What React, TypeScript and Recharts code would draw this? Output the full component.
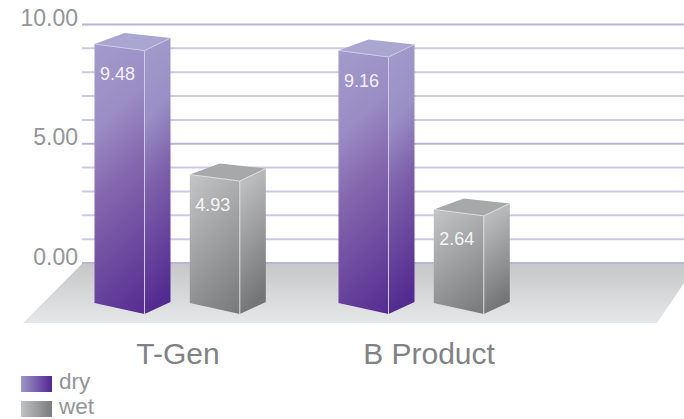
import React from "react";
import { BarChart, Bar, XAxis, YAxis, CartesianGrid, Legend, LabelList, usePlotArea } from "recharts";

const categories = ["T-Gen", "B Product"];
// Bar heights as drawn in the picture, measured against the axis
const dryHeights = [9.43, 9.16];
const wetHeights = [3.96, 2.5];
// Values printed on the bars
const dryPrinted = [9.48, 9.16];
const wetPrinted = [4.93, 2.64];
const yTicks = [0, 5, 10];
const minorLines = [1, 2, 3, 4, 6, 7, 8, 9];
const majorLines = [0, 5, 10];
const categoryNudge = [10.5, 17.5];

const data = categories.map((name, i) => ({
  name,
  dry: dryHeights[i],
  wet: wetHeights[i],
  dryPrinted: dryPrinted[i],
  wetPrinted: wetPrinted[i],
}));

const FONT = "'Liberation Sans', Arial, sans-serif";
const TEXT = "#939598";

const TOP_BACK = -5;
const TOP_LEFT = 6;
const TOP_FRONT = 12.5;
const BOT_LEFT = 40;
const BOT_FRONT = 51;
const BOT_SIDE = 39;
const SIDE_W = 26;
const BACK_X = 30;

function Floor() {
  const p = usePlotArea();
  if (!p) return null;
  const top = p.y + p.height + 0.75;
  const bottom = p.y + p.height + 60;
  const left = p.x;
  const right = p.x + p.width;
  return (
    <g>
      <defs>
        <linearGradient id="floor" x1="0" y1="0" x2="0" y2="1">
          <stop offset="0" stopColor="#c6c7c9" />
          <stop offset="1" stopColor="#e6e7e8" />
        </linearGradient>
        <linearGradient id="dryFront" x1="0" y1="0" x2="0.205" y2="1.14">
          <stop offset="0" stopColor="#a39bcc" />
          <stop offset="0.28" stopColor="#9a8cc4" />
          <stop offset="0.5" stopColor="#8567ae" />
          <stop offset="1" stopColor="#552c90" />
        </linearGradient>
        <linearGradient id="drySide" x1="0" y1="0" x2="0.1" y2="1">
          <stop offset="0" stopColor="#a29ccb" />
          <stop offset="0.3" stopColor="#9a8fc6" />
          <stop offset="0.55" stopColor="#7d60aa" />
          <stop offset="1" stopColor="#542b90" />
        </linearGradient>
        <linearGradient id="wetFront" x1="0" y1="0" x2="0.46" y2="1.2">
          <stop offset="0" stopColor="#c4c5c7" />
          <stop offset="1" stopColor="#77787a" />
        </linearGradient>
        <linearGradient id="wetSide" x1="0" y1="0" x2="0.2" y2="1">
          <stop offset="0" stopColor="#c7c8ca" />
          <stop offset="1" stopColor="#747577" />
        </linearGradient>
      </defs>
      <polygon
        points={`${left},${top} ${right + 13},${top} ${right - 27},${bottom} ${left - 59},${bottom}`}
        fill="url(#floor)"
      />
    </g>
  );
}

function Box3D(props: any) {
  const { x, y, width, height, kind } = props;
  const base = y + height;
  const r = x + width;
  const s = r + SIDE_W;
  const edge = kind === "dry" ? "#cfc9e4" : "#dcddde";
  const topFill = kind === "dry" ? "#aaa6d2" : "#a7a8aa";
  const front = `${x},${y + TOP_LEFT} ${r},${y + TOP_FRONT} ${r},${base + BOT_FRONT} ${x},${base + BOT_LEFT}`;
  const side = `${r},${y + TOP_FRONT} ${s},${y} ${s},${base + BOT_SIDE} ${r},${base + BOT_FRONT}`;
  const top = `${x},${y + TOP_LEFT} ${x + BACK_X},${y + TOP_BACK} ${s},${y} ${r},${y + TOP_FRONT}`;
  return (
    <g>
      <polygon points={front} fill={`url(#${kind}Front)`} />
      <polygon points={side} fill={`url(#${kind}Side)`} />
      <polygon points={top} fill={topFill} />
      <polyline points={`${x},${y + TOP_LEFT} ${r},${y + TOP_FRONT} ${s},${y}`} fill="none" stroke={edge} strokeWidth={1} />
      <line x1={r} y1={y + TOP_FRONT} x2={r} y2={base + BOT_FRONT} stroke={edge} strokeWidth={1} />
    </g>
  );
}

function CategoryTick(props: any) {
  const { x, y, payload, index } = props;
  return (
    <text x={x + categoryNudge[index]} y={y + 93} textAnchor="middle" fill="#808285" fontFamily={FONT} fontSize={30}>
      {payload.value}
    </text>
  );
}

function ValueLabel(props: any) {
  const { x, y, width, value } = props;
  return (
    <text x={x + width / 2 - 2} y={y + 42} textAnchor="middle" fill="#ffffff" fillOpacity={0.9} fontFamily={FONT} fontSize={18}>
      {Number(value).toFixed(2)}
    </text>
  );
}

const swatches: Record<string, string> = {
  dry: "linear-gradient(90deg,#9d96ca,#53288f)",
  wet: "linear-gradient(90deg,#c1c2c4,#797a7c)",
};

function LegendBox(props: any) {
  return (
    <div style={{ fontFamily: FONT, fontSize: 22.5, color: TEXT }}>
      {(props.payload || []).map((e: any) => (
        <div key={e.value} style={{ height: 25, display: "flex", alignItems: "center" }}>
          <span style={{ display: "inline-block", width: 31, height: 16, marginRight: 7, background: swatches[e.value] }} />
          <span style={{ lineHeight: "16px", position: "relative", top: -2 }}>{e.value}</span>
        </div>
      ))}
    </div>
  );
}

export default function App() {
  return (
    <div style={{ position: "absolute", left: 0, top: 0, width: 684, height: 419, background: "#fff", overflow: "hidden" }}>
      <BarChart
        width={684}
        height={419}
        data={data}
        margin={{ top: 24.5, right: 0, bottom: 0, left: 0 }}
        barSize={50}
        barGap={45.3}
      >
        <CartesianGrid horizontalValues={minorLines} vertical={false} stroke="#cdc9e5" strokeWidth={2} />
        <CartesianGrid horizontalValues={majorLines} vertical={false} stroke="#b7b2d8" strokeWidth={2} />
        <Floor />
        <XAxis
          dataKey="name"
          height={156}
          axisLine={false}
          tickLine={false}
          padding={{ left: -36.5, right: 150.5 }}
          tick={<CategoryTick />}
          interval={0}
        />
        <YAxis
          type="number"
          domain={[0, 10]}
          ticks={yTicks}
          width={82}
          axisLine={false}
          tickLine={false}
          tickMargin={4}
          tickFormatter={(v: number) => v.toFixed(2)}
          tick={{ fill: TEXT, fontSize: 23, fontFamily: FONT, dy: -6.5, dx: 6 }}
        />
        <Legend
          layout="horizontal"
          verticalAlign="middle"
          align="center"
          wrapperStyle={{ left: 21, top: 371, width: 120, height: 48 }}
          content={<LegendBox />}
        />
        <Bar dataKey="dry" name="dry" fill="#7b5fa8" isAnimationActive={false} shape={(p: any) => <Box3D {...p} kind="dry" />}>
          <LabelList dataKey="dryPrinted" content={<ValueLabel />} />
        </Bar>
        <Bar dataKey="wet" name="wet" fill="#9a9b9d" isAnimationActive={false} shape={(p: any) => <Box3D {...p} kind="wet" />}>
          <LabelList dataKey="wetPrinted" content={<ValueLabel />} />
        </Bar>
      </BarChart>
    </div>
  );
}
